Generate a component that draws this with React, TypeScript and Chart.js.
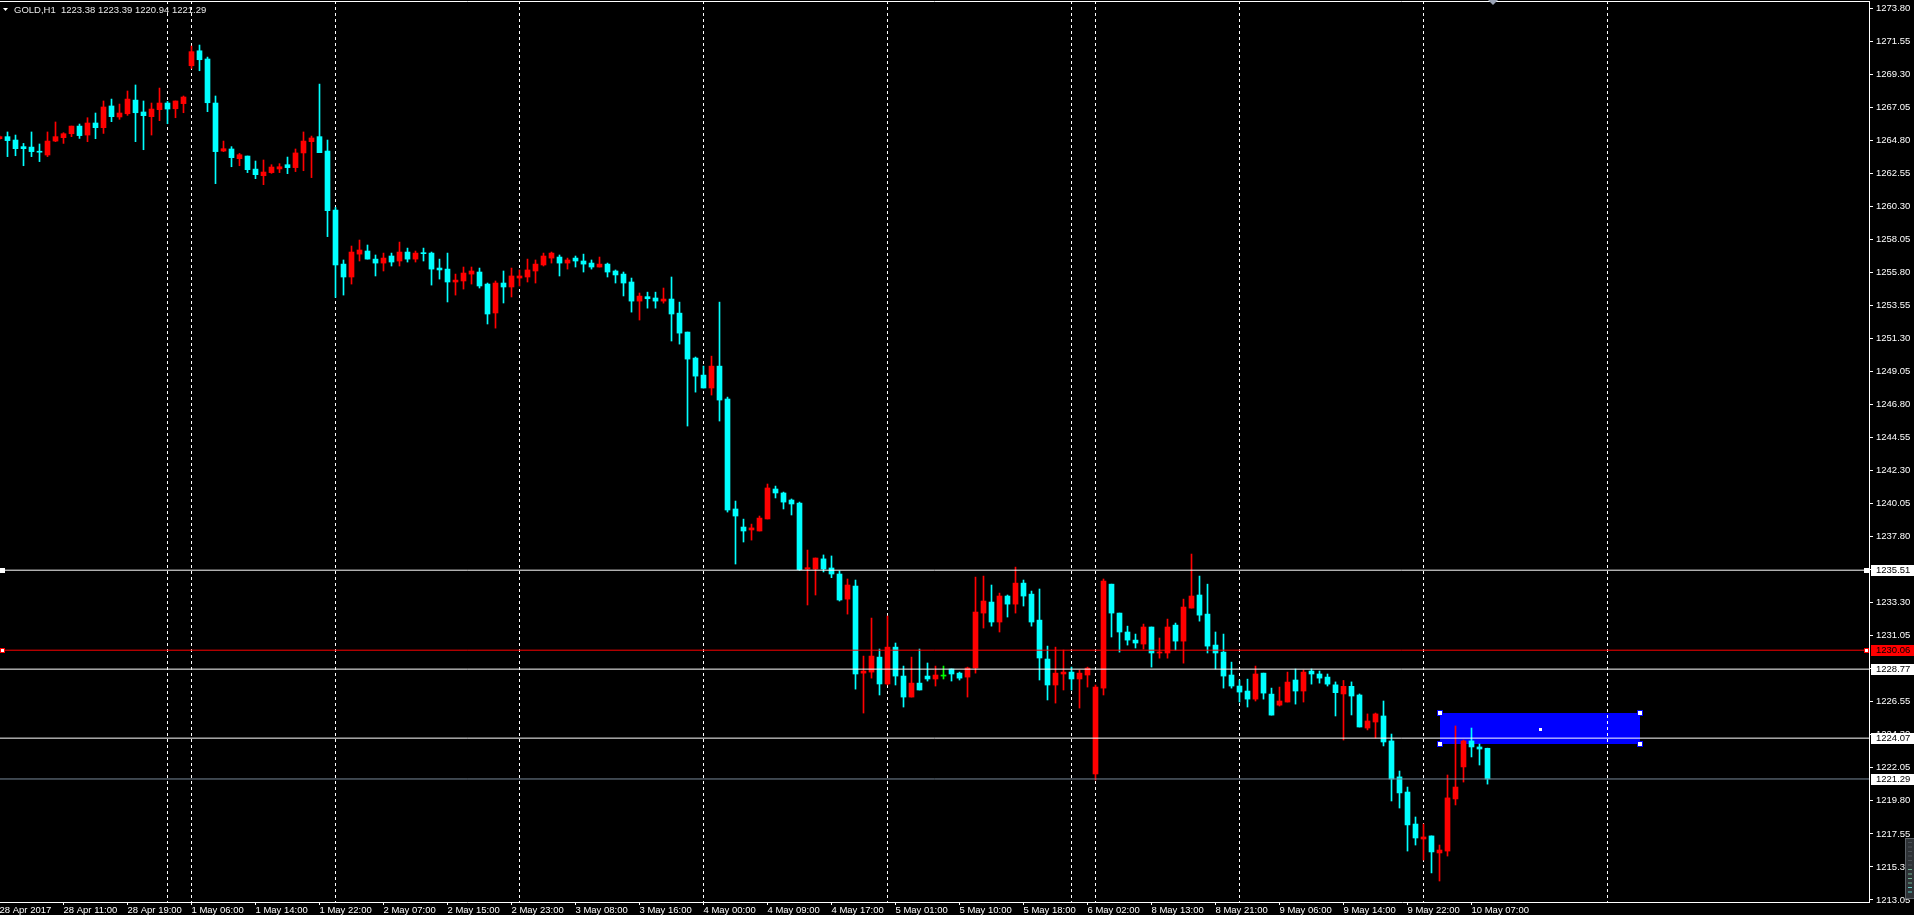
import React, { useEffect, useRef } from "react";
import { Chart, registerables } from "chart.js";

Chart.register(...registerables);

// ---------- DATA ----------
const FIRST_BAR_INDEX = -1;

const OPEN = [
  1264.90, 1265.04, 1264.81, 1264.36, 1264.33, 1264.00, 1263.79, 1264.74, 1264.97, 1265.24,
  1265.76, 1265.15, 1265.97, 1265.65, 1267.13, 1266.38, 1266.60, 1267.53, 1266.72, 1266.40,
  1266.88, 1267.33, 1266.94, 1267.29, 1269.87, 1270.89, 1270.33, 1267.33, 1264.06, 1264.20,
  1263.54, 1263.72, 1262.83, 1262.38, 1262.59, 1262.84, 1263.13, 1262.93, 1263.93, 1264.70,
  1265.04, 1264.06, 1260.04, 1256.36, 1255.48, 1257.04, 1257.25, 1256.70, 1256.43, 1256.91,
  1256.57, 1257.18, 1256.70, 1257.10, 1257.11, 1256.09, 1256.02, 1255.14, 1255.21, 1255.68,
  1255.82, 1255.00, 1253.03, 1255.07, 1254.80, 1255.41, 1255.48, 1255.89, 1256.30, 1256.77,
  1256.84, 1256.43, 1256.77, 1256.57, 1256.43, 1256.16, 1256.36, 1255.89, 1255.68, 1255.14,
  1253.84, 1254.14, 1254.05, 1253.84, 1253.98, 1253.02, 1251.73, 1249.96, 1248.80, 1247.92,
  1249.41, 1247.17, 1239.68, 1238.45, 1238.25, 1238.18, 1239.00, 1241.04, 1240.77, 1240.29,
  1240.08, 1235.59, 1235.59, 1236.28, 1235.66, 1235.25, 1233.54, 1234.43, 1228.50, 1228.57,
  1229.59, 1227.76, 1230.27, 1228.30, 1226.87, 1227.82, 1228.30, 1228.10, 1228.30, 1228.78,
  1228.50, 1228.23, 1228.85, 1232.59, 1233.34, 1231.98, 1233.75, 1233.20, 1234.63, 1233.88,
  1232.11, 1229.46, 1227.69, 1228.44, 1228.57, 1228.10, 1228.37, 1221.63, 1227.48, 1234.56,
  1232.59, 1231.30, 1230.75, 1230.48, 1231.64, 1229.87, 1229.87, 1231.77, 1230.68, 1232.93,
  1233.82, 1232.52, 1230.41, 1229.93, 1228.37, 1227.62, 1227.28, 1226.73, 1228.50, 1227.07,
  1226.32, 1226.53, 1228.03, 1227.28, 1228.64, 1228.44, 1228.23, 1227.70, 1227.08, 1227.60,
  1227.01, 1224.76, 1225.17, 1225.58, 1223.88, 1221.43, 1220.40, 1218.22, 1217.20, 1217.41,
  1216.25, 1216.38, 1219.93, 1222.11, 1223.88, 1223.47, 1223.38,
];
const HIGH = [
  1265.10, 1265.36, 1265.15, 1264.58, 1265.36, 1264.54, 1265.36, 1266.04, 1265.31, 1265.76,
  1265.90, 1266.33, 1266.65, 1267.47, 1267.60, 1267.26, 1268.15, 1268.56, 1267.47, 1267.33,
  1268.35, 1267.44, 1267.47, 1267.81, 1271.21, 1271.28, 1270.46, 1267.81, 1264.74, 1264.36,
  1263.90, 1263.72, 1263.38, 1263.45, 1263.13, 1263.20, 1263.65, 1264.20, 1265.36, 1265.08,
  1268.62, 1264.81, 1260.22, 1256.64, 1257.59, 1258.00, 1257.66, 1256.98, 1257.11, 1257.11,
  1257.86, 1257.45, 1257.25, 1257.45, 1257.18, 1256.70, 1257.11, 1255.68, 1256.16, 1256.16,
  1256.09, 1255.07, 1255.21, 1255.89, 1256.09, 1255.96, 1256.70, 1256.64, 1257.11, 1257.18,
  1256.98, 1256.77, 1256.91, 1257.04, 1256.64, 1256.84, 1256.43, 1255.96, 1255.82, 1255.41,
  1254.39, 1254.45, 1254.45, 1254.73, 1255.48, 1253.77, 1251.73, 1250.03, 1249.41, 1250.09,
  1253.77, 1247.30, 1240.22, 1238.99, 1238.65, 1239.20, 1241.38, 1241.24, 1240.83, 1240.36,
  1240.15, 1236.88, 1236.34, 1236.55, 1236.48, 1235.46, 1234.91, 1234.84, 1229.66, 1232.25,
  1230.14, 1232.39, 1230.55, 1228.98, 1229.59, 1230.14, 1229.19, 1228.98, 1228.98, 1228.78,
  1228.57, 1228.91, 1235.04, 1235.11, 1234.50, 1233.95, 1233.82, 1235.72, 1234.84, 1234.09,
  1234.23, 1230.34, 1230.27, 1230.07, 1228.91, 1228.71, 1228.91, 1227.69, 1234.91, 1234.56,
  1232.59, 1231.70, 1231.16, 1231.84, 1231.64, 1230.89, 1232.18, 1231.91, 1233.54, 1236.61,
  1235.11, 1234.56, 1231.30, 1231.16, 1229.25, 1228.03, 1228.09, 1228.98, 1228.50, 1227.48,
  1227.55, 1228.57, 1228.78, 1228.71, 1228.78, 1228.64, 1228.44, 1227.90, 1228.00, 1227.90,
  1227.08, 1225.72, 1225.78, 1226.60, 1224.35, 1221.83, 1220.74, 1218.70, 1218.22, 1217.41,
  1216.79, 1221.56, 1224.90, 1223.94, 1224.76, 1223.67, 1223.39,
];
const LOW = [
  1264.85, 1263.68, 1263.74, 1263.06, 1263.68, 1263.34, 1263.68, 1264.70, 1264.58, 1265.04,
  1264.92, 1264.70, 1264.90, 1265.26, 1266.06, 1266.22, 1266.49, 1264.70, 1264.15, 1265.15,
  1266.13, 1265.92, 1266.33, 1266.67, 1269.69, 1269.53, 1266.74, 1261.84, 1264.02, 1262.99,
  1263.06, 1262.59, 1262.18, 1261.77, 1262.54, 1262.59, 1262.52, 1262.66, 1262.72, 1262.25,
  1263.95, 1258.23, 1254.09, 1254.25, 1255.00, 1256.57, 1256.70, 1255.55, 1255.89, 1256.23,
  1256.23, 1256.50, 1256.50, 1256.57, 1254.93, 1255.34, 1253.78, 1254.25, 1254.66, 1255.00,
  1254.73, 1252.28, 1252.00, 1253.71, 1254.12, 1254.87, 1255.14, 1255.07, 1256.23, 1256.43,
  1255.55, 1256.02, 1256.16, 1255.82, 1256.02, 1256.16, 1255.48, 1255.07, 1254.19, 1253.09,
  1252.55, 1253.36, 1253.36, 1253.70, 1251.12, 1250.91, 1245.33, 1247.64, 1247.92, 1247.44,
  1245.67, 1239.47, 1235.93, 1237.43, 1237.56, 1238.18, 1239.00, 1240.43, 1239.68, 1239.27,
  1235.50, 1233.14, 1233.82, 1235.39, 1235.00, 1233.41, 1232.52, 1227.41, 1225.78, 1228.16,
  1227.01, 1227.70, 1227.69, 1226.19, 1226.87, 1227.35, 1227.96, 1227.62, 1228.10, 1227.96,
  1228.03, 1226.87, 1228.50, 1231.57, 1231.70, 1231.30, 1232.32, 1232.59, 1233.07, 1231.70,
  1228.03, 1226.67, 1226.46, 1227.35, 1227.35, 1226.12, 1227.55, 1221.22, 1227.01, 1230.96,
  1229.93, 1230.41, 1230.21, 1230.14, 1228.91, 1229.52, 1229.52, 1230.07, 1229.18, 1232.93,
  1232.04, 1229.87, 1228.78, 1227.48, 1227.48, 1226.53, 1226.19, 1226.60, 1226.73, 1225.64,
  1226.26, 1226.53, 1226.39, 1226.53, 1227.75, 1227.82, 1227.62, 1225.58, 1223.94, 1225.65,
  1224.83, 1224.63, 1224.08, 1223.54, 1219.79, 1219.31, 1216.38, 1216.79, 1215.77, 1214.89,
  1214.34, 1216.04, 1219.52, 1221.08, 1222.79, 1222.24, 1220.94,
];
const CLOSE = [
  1265.04, 1264.77, 1264.22, 1264.22, 1264.02, 1263.98, 1264.74, 1265.04, 1265.24, 1265.76,
  1265.11, 1265.97, 1265.65, 1267.06, 1266.40, 1266.65, 1267.60, 1266.67, 1266.47, 1266.92,
  1267.33, 1266.92, 1267.47, 1267.74, 1270.83, 1270.28, 1267.35, 1264.02, 1264.22, 1263.61,
  1263.81, 1262.79, 1262.45, 1262.63, 1262.97, 1262.99, 1262.93, 1263.93, 1264.74, 1264.95,
  1263.95, 1260.00, 1256.30, 1255.48, 1257.18, 1257.32, 1256.70, 1256.43, 1256.77, 1256.50,
  1257.18, 1256.70, 1257.11, 1257.07, 1256.02, 1255.96, 1255.14, 1255.27, 1255.75, 1255.89,
  1254.87, 1252.96, 1255.07, 1254.80, 1255.55, 1255.55, 1255.96, 1256.36, 1256.91, 1257.11,
  1256.43, 1256.64, 1256.57, 1256.36, 1256.16, 1256.36, 1255.82, 1255.62, 1255.07, 1253.84,
  1254.18, 1254.00, 1253.84, 1253.98, 1252.96, 1251.66, 1249.89, 1248.73, 1247.92, 1249.41,
  1247.10, 1239.61, 1239.20, 1238.18, 1238.39, 1239.06, 1241.11, 1240.77, 1240.15, 1240.02,
  1235.55, 1235.68, 1236.34, 1235.59, 1235.25, 1233.48, 1234.50, 1228.44, 1228.64, 1229.66,
  1227.76, 1230.27, 1228.30, 1226.87, 1227.82, 1227.35, 1228.10, 1228.37, 1228.30, 1228.44,
  1228.16, 1228.85, 1232.66, 1233.41, 1231.98, 1233.75, 1233.20, 1234.63, 1233.75, 1231.98,
  1229.53, 1227.69, 1228.50, 1228.57, 1228.10, 1228.50, 1228.84, 1227.55, 1234.77, 1232.59,
  1231.30, 1230.75, 1230.55, 1231.64, 1229.87, 1229.94, 1231.64, 1230.68, 1233.00, 1233.75,
  1232.45, 1230.34, 1229.87, 1228.30, 1227.62, 1227.21, 1226.73, 1228.44, 1227.14, 1225.64,
  1226.60, 1227.89, 1227.28, 1228.57, 1228.44, 1228.16, 1227.75, 1227.17, 1227.60, 1226.94,
  1224.83, 1225.24, 1225.72, 1223.81, 1221.29, 1220.34, 1218.16, 1217.27, 1217.34, 1216.32,
  1216.45, 1220.00, 1220.74, 1223.88, 1223.47, 1223.33, 1221.29,
];

const Y_TICKS = [
  1213.05, 1215.30, 1217.55, 1219.80, 1222.05, 1224.30, 1226.55, 1228.80, 1231.05, 1233.30,
  1235.55, 1237.80, 1240.05, 1242.30, 1244.55, 1246.80, 1249.05, 1251.30, 1253.55, 1255.80,
  1258.05, 1260.30, 1262.55, 1264.80, 1267.05, 1269.30, 1271.55, 1273.80,
];

const X_TICK_BARS = [
  -1, 7, 15, 23, 31, 39, 47, 55, 63, 71, 79, 87, 95, 103, 111, 119, 127, 135, 143, 151, 159, 167, 175, 183,
];
const X_TICK_LABELS = [
  "28 Apr 2017", "28 Apr 11:00", "28 Apr 19:00", "1 May 06:00", "1 May 14:00", "1 May 22:00",
  "2 May 07:00", "2 May 15:00", "2 May 23:00", "3 May 08:00", "3 May 16:00", "4 May 00:00",
  "4 May 09:00", "4 May 17:00", "5 May 01:00", "5 May 10:00", "5 May 18:00", "6 May 02:00",
  "8 May 13:00", "8 May 21:00", "9 May 06:00", "9 May 14:00", "9 May 22:00", "10 May 07:00",
];

const SEPARATOR_BARS = [20, 23, 41, 64, 87, 110, 133, 136, 154, 177, 200];

const LEVEL_VALUES = [1235.51, 1230.06, 1228.77, 1224.07, 1221.29];
const LEVEL_COLORS = ["#ffffff", "#ff0000", "#ffffff", "#ffffff", "#778899"];
const LEVEL_LABEL_BG = ["#ffffff", "#ff0000", "#ffffff", "#ffffff", "#ffffff"];
const LEVEL_MARKERS = ["solid", "hollow", "none", "none", "none"];

const RECT_BARS = [179, 204];
const RECT_PRICES = [1223.65, 1225.76];

const SYMBOL = "GOLD,H1";
const LAST_OHLC = ["1223.38", "1223.39", "1220.94", "1221.29"];

// ---------- STYLE ----------
const BULL = "#ff0000";
const BEAR = "#00ffff";
const DOJI = "#00ff00";
const FONT = "'Liberation Sans', Arial, sans-serif";
const AXIS_FONT_SIZE = 9.5;
const X_MIN = -0.9375;
const X_MAX = 232.6875;
const Y_MIN = 1212.91;
const Y_MAX = 1274.28;

const W = 1914;
const H = 915;

function candleColor(o: number, c: number) {
  if (c > o) return BULL;
  if (c < o) return BEAR;
  return DOJI;
}

const mt4Plugin = {
  id: "mt4",
  beforeDraw(chart: any) {
    const ctx = chart.ctx;
    ctx.save();
    ctx.fillStyle = "#000000";
    ctx.fillRect(0, 0, chart.width, chart.height);
    ctx.restore();
  },
  beforeDatasetsDraw(chart: any) {
    const ctx = chart.ctx;
    const xs = chart.scales.x;
    const ys = chart.scales.y;
    const a = chart.chartArea;
    const x0 = xs.getPixelForValue(RECT_BARS[0]);
    const x1 = xs.getPixelForValue(RECT_BARS[1]);
    const y0 = ys.getPixelForValue(RECT_PRICES[1]);
    const y1 = ys.getPixelForValue(RECT_PRICES[0]);
    ctx.save();
    ctx.beginPath();
    ctx.rect(a.left, a.top, a.right - a.left, a.bottom - a.top);
    ctx.clip();
    // rectangle object (background)
    ctx.fillStyle = "#0000ff";
    ctx.fillRect(Math.round(x0), Math.round(y0), Math.round(x1 - x0), Math.round(y1 - y0));
    // period separators (behind candles)
    ctx.strokeStyle = "#ffffff";
    ctx.lineWidth = 1;
    ctx.setLineDash([3, 3]);
    SEPARATOR_BARS.forEach((b) => {
      const px = Math.floor(xs.getPixelForValue(b)) + 0.5;
      ctx.beginPath();
      ctx.moveTo(px, a.top);
      ctx.lineTo(px, a.bottom);
      ctx.stroke();
    });
    ctx.setLineDash([]);
    ctx.restore();
  },
  afterDatasetsDraw(chart: any) {
    const ctx = chart.ctx;
    const xs = chart.scales.x;
    const ys = chart.scales.y;
    const a = chart.chartArea;
    ctx.save();
    ctx.beginPath();
    ctx.rect(a.left, a.top, a.right - a.left, a.bottom - a.top);
    ctx.clip();
    ctx.lineWidth = 1;
    // level line end markers
    LEVEL_VALUES.forEach((v, i) => {
      const m = LEVEL_MARKERS[i];
      if (m === "none") return;
      const py = Math.round(ys.getPixelForValue(v));
      [a.left + 0, a.right - 5].forEach((mx) => {
        ctx.fillStyle = "#ffffff";
        ctx.fillRect(mx, py - 2, 5, 5);
        if (m === "hollow") {
          ctx.strokeStyle = LEVEL_COLORS[i];
          ctx.strokeRect(mx + 0.5, py - 1.5, 4, 4);
        }
      });
    });
    // rectangle selection markers
    const x0 = Math.round(xs.getPixelForValue(RECT_BARS[0]));
    const x1 = Math.round(xs.getPixelForValue(RECT_BARS[1]));
    const y0 = Math.round(ys.getPixelForValue(RECT_PRICES[1]));
    const y1 = Math.round(ys.getPixelForValue(RECT_PRICES[0]));
    const pts = [
      [x0, y0],
      [x1, y0],
      [x0, y1],
      [x1, y1],
    ];
    pts.forEach(([px, py]) => {
      ctx.fillStyle = "#ffffff";
      ctx.fillRect(px - 2, py - 2, 4, 4);
      ctx.strokeStyle = "#0000ff";
      ctx.strokeRect(px - 2.5, py - 2.5, 5, 5);
    });
    ctx.fillStyle = "#ffffff";
    ctx.fillRect(Math.round((x0 + x1) / 2) - 1, Math.round((y0 + y1) / 2) - 1, 3, 3);
    ctx.restore();
  },
  afterDraw(chart: any) {
    const ctx = chart.ctx;
    const xs = chart.scales.x;
    const ys = chart.scales.y;
    const a = chart.chartArea;
    ctx.save();
    // top frame
    ctx.strokeStyle = "#ffffff";
    ctx.lineWidth = 1;
    ctx.beginPath();
    ctx.moveTo(a.left, a.top + 0.5);
    ctx.lineTo(a.right, a.top + 0.5);
    ctx.stroke();

    // price labels for levels
    ctx.font = `${AXIS_FONT_SIZE}px ${FONT}`;
    ctx.textBaseline = "middle";
    ctx.textAlign = "left";
    LEVEL_VALUES.forEach((v, i) => {
      const py = Math.round(ys.getPixelForValue(v));
      ctx.fillStyle = LEVEL_LABEL_BG[i];
      ctx.fillRect(a.right + 2, py - 5, W - a.right - 2, 11);
      ctx.fillStyle = "#000000";
      ctx.fillText(v.toFixed(2), a.right + 7, py + 0.5);
    });

    // header
    ctx.fillStyle = "#ffffff";
    ctx.beginPath();
    ctx.moveTo(3, 8);
    ctx.lineTo(8, 8);
    ctx.lineTo(5.5, 11);
    ctx.closePath();
    ctx.fill();
    ctx.fillStyle = "#e8e8e8";
    ctx.font = `9.5px ${FONT}`;
    ctx.textBaseline = "middle";
    ctx.fillText(`${SYMBOL}  ${LAST_OHLC.join(" ")}`, 14, 10);

    // chart shift marker
    const sx = Math.round(xs.getPixelForValue(OPEN.length - 1 + FIRST_BAR_INDEX + 0.7));
    ctx.fillStyle = "#9aa3b5";
    ctx.beginPath();
    ctx.moveTo(sx - 5, 0);
    ctx.lineTo(sx + 5, 0);
    ctx.lineTo(sx, 5);
    ctx.closePath();
    ctx.fill();

    // scroll widget
    ctx.fillStyle = "#2e3236";
    ctx.fillRect(W - 9, 838, 9, 61);
    ctx.strokeStyle = "#5c6268";
    ctx.strokeRect(W - 8.5, 838.5, 9, 60);
    for (let k = 0; k < 12; k++) {
      ctx.fillStyle = k < 6 ? "#4a5056" : k < 10 ? "#6fae8f" : "#5fc6c0";
      ctx.fillRect(W - 6, 842 + k * 4.5, 4, 1);
    }
    ctx.restore();
  },
};

export default function App() {
  const ref = useRef<HTMLCanvasElement | null>(null);

  useEffect(() => {
    if (!ref.current) return;
    document.body.style.background = "#000000";

    const bodies = OPEN.map((o, k) => ({ x: FIRST_BAR_INDEX + k, y: [o, CLOSE[k]] }));
    const wicks = LOW.map((l, k) => ({ x: FIRST_BAR_INDEX + k, y: [l, HIGH[k]] }));
    const colors = OPEN.map((o, k) => candleColor(o, CLOSE[k]));

    const levelSets = LEVEL_VALUES.map((v, i) => ({
      type: "line" as const,
      data: [
        { x: X_MIN, y: v },
        { x: X_MAX, y: v },
      ],
      borderColor: LEVEL_COLORS[i],
      borderWidth: 1,
      pointRadius: 0,
      order: 0,
    }));

    const chart = new Chart(ref.current, {
      type: "bar",
      data: {
        datasets: [
          {
            type: "bar",
            data: bodies as any,
            backgroundColor: colors,
            borderWidth: 0,
            barThickness: 5,
            minBarLength: 1,
            grouped: false,
            order: 1,
          } as any,
          {
            type: "bar",
            data: wicks as any,
            backgroundColor: colors,
            borderWidth: 0,
            barThickness: 1,
            minBarLength: 1,
            grouped: false,
            order: 2,
          } as any,
          ...(levelSets as any),
        ],
      },
      options: {
        responsive: false,
        maintainAspectRatio: false,
        devicePixelRatio: 1,
        animation: false,
        events: [],
        layout: { padding: { top: 1, left: 0, right: 0, bottom: 0 } },
        plugins: {
          legend: { display: false },
          tooltip: { enabled: false },
          title: { display: false },
        },
        scales: {
          x: {
            type: "linear",
            min: X_MIN,
            max: X_MAX,
            offset: false,
            afterBuildTicks: (s: any) => {
              s.ticks = X_TICK_BARS.map((v) => ({ value: v }));
            },
            afterFit: (s: any) => {
              s.height = 13;
              s.paddingLeft = 0;
              s.paddingRight = 0;
            },
            ticks: {
              color: "#ffffff",
              font: { family: FONT, size: AXIS_FONT_SIZE },
              align: "start",
              maxRotation: 0,
              minRotation: 0,
              autoSkip: false,
              padding: 0,
              callback: (_v: any, idx: number) => X_TICK_LABELS[idx] ?? "",
            },
            grid: {
              drawOnChartArea: false,
              offset: false,
              drawTicks: true,
              tickLength: 3,
              color: "#ffffff",
            },
            border: { display: true, color: "#ffffff", width: 1 },
          } as any,
          y: {
            type: "linear",
            position: "right",
            min: Y_MIN,
            max: Y_MAX,
            afterBuildTicks: (s: any) => {
              s.ticks = Y_TICKS.map((v) => ({ value: v }));
            },
            afterFit: (s: any) => {
              s.width = 45;
              s.paddingTop = 0;
              s.paddingBottom = 0;
            },
            ticks: {
              color: "#ffffff",
              font: { family: FONT, size: AXIS_FONT_SIZE },
              padding: 3,
              autoSkip: false,
              callback: (v: any) => Number(v).toFixed(2),
            },
            grid: {
              drawOnChartArea: false,
              drawTicks: true,
              tickLength: 4,
              color: "#ffffff",
            },
            border: { display: true, color: "#ffffff", width: 1 },
          } as any,
        },
      },
      plugins: [mt4Plugin as any],
    });

    return () => {
      chart.destroy();
    };
  }, []);

  return (
    <canvas
      ref={ref}
      width={W}
      height={H}
      style={{ position: "fixed", left: 0, top: 0, width: W, height: H, display: "block" }}
    />
  );
}
